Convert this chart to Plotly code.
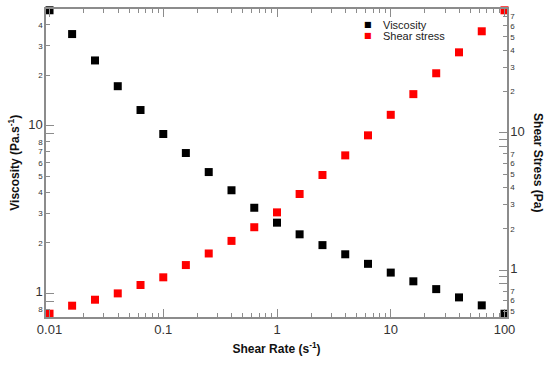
import plotly.graph_objects as go

shear_rate = [0.01, 0.0158, 0.0251, 0.0398, 0.0631, 0.1, 0.158, 0.251, 0.398, 0.631,
              1.0, 1.58, 2.51, 3.98, 6.31, 10.0, 15.8, 25.1, 39.8, 63.1, 100.0]
viscosity = [48.8, 35.2, 24.5, 17.2, 12.4, 8.92, 6.87, 5.29, 4.12, 3.24,
             2.64, 2.25, 1.94, 1.71, 1.50, 1.33, 1.18, 1.06, 0.946, 0.848, 0.756]
shear_stress = [0.481, 0.550, 0.608, 0.676, 0.778, 0.885, 1.087, 1.32, 1.63, 2.05,
                2.63, 3.58, 4.92, 6.84, 9.57, 13.5, 19.1, 27.1, 38.5, 54.8, 77.9]

x_tickvals = [0.01, 0.1, 1, 10, 100]
x_ticktext = ["0.01", "0.1", "1", "10", "100"]
x_minor = [m * 10 ** e for e in range(-2, 2) for m in range(2, 10)]

left_tickvals = [0.8, 1, 2, 3, 4, 5, 6, 7, 8, 10, 20, 30, 40]
left_ticktext = ["8", "1", "2", "3", "4", "5", "6", "7", "8", "10", "2", "3", "4"]
left_minor = [0.9, 1, 9, 10]

right_tickvals = [0.5, 0.6, 0.7, 1, 2, 3, 4, 5, 6, 7, 10, 20, 30, 40, 50, 60, 70]
right_ticktext = ["5", "6", "7", "1", "2", "3", "4", "5", "6", "7", "10", "2", "3", "4", "5", "6", "7"]
right_minor = [0.8, 0.9, 1, 8, 9, 10]

BIG = {"1", "10"}


def fmt(t):
    return f"<span style='font-size:13px'>{t}</span>" if t in BIG else t


AX = "#8c8c8c"
TXT = "#333333"
FONT = "Liberation Sans, Arial, sans-serif"

fig = go.Figure()
fig.add_trace(go.Scatter(x=shear_rate, y=viscosity, mode="markers", name="Viscosity",
                         marker=dict(symbol="square", size=8, color="#000000"),
                         cliponaxis=False, showlegend=False))
fig.add_trace(go.Scatter(x=shear_rate, y=shear_stress, mode="markers", name="Shear stress",
                         marker=dict(symbol="square", size=8, color="#ff0000"),
                         cliponaxis=False, yaxis="y2", showlegend=False))

fig.update_layout(
    width=550, height=365,
    margin=dict(l=46, r=43, t=9, b=48),
    paper_bgcolor="white", plot_bgcolor="white",
    font=dict(family=FONT, color=TXT),
    showlegend=False,
    xaxis=dict(
        type="log", range=[-2.031, 2.022], automargin=False,
        showgrid=False, zeroline=False,
        showline=True, linecolor=AX, linewidth=1.5, mirror="ticks",
        ticks="inside", ticklen=8, tickcolor=AX, tickwidth=1,
        tickmode="array", tickvals=x_tickvals, ticktext=x_ticktext,
        tickfont=dict(size=13, color=TXT),
        minor=dict(tickmode="array", tickvals=x_minor, ticks="inside", ticklen=4,
                   tickcolor=AX, showgrid=False),
        title=dict(text="<b>Shear Rate (s<sup>-1</sup>)</b>", font=dict(size=12, color="#111111"),
                   standoff=8),
    ),
    yaxis=dict(
        type="log", range=[-0.141, 1.696], automargin=False,
        showgrid=False, zeroline=False,
        showline=True, linecolor=AX, linewidth=1.5,
        ticks="inside", ticklen=4, tickcolor=AX, tickwidth=1,
        tickmode="array", tickvals=left_tickvals,
        ticktext=[fmt(t) for t in left_ticktext],
        tickfont=dict(size=8, color=TXT),
        minor=dict(tickmode="array", tickvals=left_minor, ticks="inside", ticklen=8,
                   tickcolor=AX, showgrid=False),
    ),
    yaxis2=dict(
        type="log", range=[-0.342, 1.901], automargin=False,
        overlaying="y", side="right", anchor="x",
        showgrid=False, zeroline=False,
        showline=True, linecolor=AX, linewidth=1.5,
        ticks="inside", ticklen=4, tickcolor=AX, tickwidth=1,
        tickmode="array", tickvals=right_tickvals,
        ticktext=[fmt(t) for t in right_ticktext],
        tickfont=dict(size=8, color=TXT),
        minor=dict(tickmode="array", tickvals=right_minor, ticks="inside", ticklen=8,
                   tickcolor=AX, showgrid=False),
    ),
)

# y-axis titles
fig.add_annotation(xref="paper", yref="paper", x=-0.07, y=0.5, xanchor="center", yanchor="middle",
                   text="<b>Viscosity (Pa.s<sup>-1</sup>)</b>", textangle=-90, showarrow=False,
                   font=dict(size=12, color="#111111", family=FONT))
fig.add_annotation(xref="paper", yref="paper", x=1.067, y=0.5, xanchor="center", yanchor="middle",
                   text="<b>Shear Stress (Pa)</b>", textangle=90, showarrow=False,
                   font=dict(size=12, color="#111111", family=FONT))

# legend drawn as text
legend_items = [("Viscosity", "#000000", 0.949), ("Shear stress", "#ff0000", 0.913)]
for name, col, yp in legend_items:
    fig.add_annotation(xref="paper", yref="paper", x=0.698, y=yp, xanchor="center", yanchor="middle",
                       text=f"<span style='color:{col}'>■</span>", showarrow=False,
                       font=dict(size=8, family="DejaVu Sans"))
    fig.add_annotation(xref="paper", yref="paper", x=0.7267, y=yp, xanchor="left", yanchor="middle",
                       text=name, showarrow=False, font=dict(size=11, color="#222222", family=FONT))

fig.write_html("out.html", config={"displayModeBar": False},
               post_script="document.body.style.margin='0';document.body.style.padding='0';")
